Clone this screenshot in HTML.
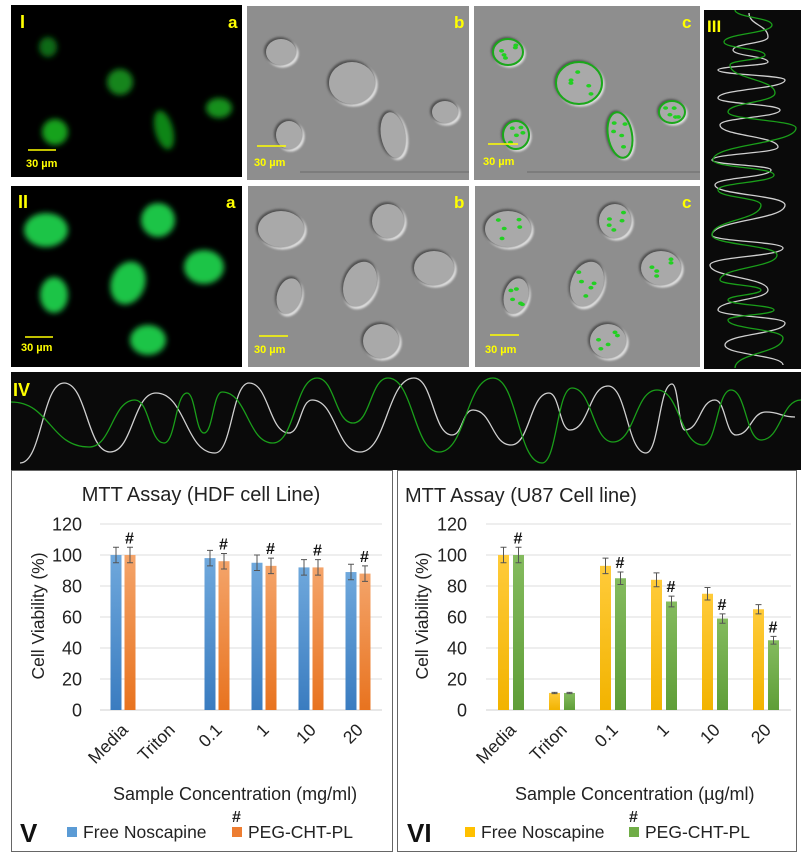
<!DOCTYPE html>
<html><head><meta charset="utf-8"><style>
html,body{margin:0;padding:0;background:#fff;}
svg{display:block;font-family:"Liberation Sans",sans-serif;}
</style></head><body>
<svg id="s" width="801" height="854" viewBox="0 0 801 854" xmlns="http://www.w3.org/2000/svg">
<defs>
<filter id="bl" x="-50%" y="-50%" width="200%" height="200%"><feGaussianBlur stdDeviation="3"/></filter>
<filter id="bl1" x="-50%" y="-50%" width="200%" height="200%"><feGaussianBlur stdDeviation="1"/></filter>
<linearGradient id="gB" x1="0" y1="0" x2="0" y2="1"><stop offset="0" stop-color="#6fa8dc"/><stop offset="1" stop-color="#3a7cc0"/></linearGradient>
<linearGradient id="gO" x1="0" y1="0" x2="0" y2="1"><stop offset="0" stop-color="#f4a46a"/><stop offset="1" stop-color="#e8731f"/></linearGradient>
<linearGradient id="gY" x1="0" y1="0" x2="0" y2="1"><stop offset="0" stop-color="#ffcb3a"/><stop offset="1" stop-color="#f2b300"/></linearGradient>
<linearGradient id="gG" x1="0" y1="0" x2="0" y2="1"><stop offset="0" stop-color="#84bb5e"/><stop offset="1" stop-color="#5f9e38"/></linearGradient>
</defs>
<rect x="11" y="5" width="231" height="172" fill="#000"/>
<rect x="247" y="6" width="222" height="174" fill="#8e8e8e"/>
<rect x="474" y="6" width="226" height="174" fill="#8e8e8e"/>
<rect x="11" y="186" width="231" height="181" fill="#000"/>
<rect x="248" y="186" width="221" height="181" fill="#8e8e8e"/>
<rect x="475" y="186" width="225" height="181" fill="#8e8e8e"/>
<rect x="704" y="10" width="97" height="359" fill="#0a0a0a"/>
<rect x="11" y="372" width="790" height="98" fill="#0a0a0a"/>
<g id="cells"></g>
<g fill="#ffff00" font-weight="bold">
<text x="20" y="28" font-size="18">I</text><text x="228" y="28" font-size="17">a</text>
<text x="454" y="28" font-size="17">b</text><text x="682" y="28" font-size="17">c</text>
<text x="18" y="208" font-size="18">II</text><text x="226" y="208" font-size="17">a</text>
<text x="454" y="208" font-size="17">b</text><text x="682" y="208" font-size="17">c</text>
<text x="707" y="32" font-size="17">III</text>
<text x="13" y="396" font-size="18">IV</text>
<g font-size="11">
<text x="26" y="167">30 µm</text><text x="254" y="166">30 µm</text><text x="483" y="165">30 µm</text>
<text x="21" y="351">30 µm</text><text x="254" y="353">30 µm</text><text x="485" y="353">30 µm</text>
</g>
<g stroke="#ffff00" stroke-width="1.5">
<line x1="28" y1="150" x2="56" y2="150"/><line x1="257" y1="146" x2="286" y2="146"/><line x1="488" y1="144" x2="518" y2="144"/>
<line x1="25" y1="337" x2="53" y2="337"/><line x1="259" y1="336" x2="288" y2="336"/><line x1="490" y1="335" x2="519" y2="335"/>
</g>
</g>
<g id="waves" fill="none" stroke-width="1.3"></g>
<rect x="11.5" y="470.5" width="381" height="381" fill="none" stroke="#666"/>
<rect x="397.5" y="470.5" width="399" height="381" fill="none" stroke="#666"/>
<g id="charts"></g>
<g fill="#222">
<text x="201" y="501" font-size="20" text-anchor="middle">MTT Assay (HDF cell Line)</text>
<text x="405" y="502" font-size="20">MTT Assay (U87 Cell line)</text>
<text x="113" y="800" font-size="18">Sample Concentration  (mg/ml)</text>
<text x="515" y="800" font-size="18">Sample Concentration (µg/ml)</text>
<text x="44" y="616" font-size="17.5" text-anchor="middle" transform="rotate(-90 44 616)">Cell Viability (%)</text>
<text x="428" y="616" font-size="17.5" text-anchor="middle" transform="rotate(-90 428 616)">Cell Viability (%)</text>
<text x="20" y="842" font-size="26" font-weight="bold" fill="#111">V</text>
<text x="407" y="842" font-size="26" font-weight="bold" fill="#111">VI</text>
<rect x="67" y="827" width="10" height="10" fill="#5b9bd5"/><text x="83" y="838" font-size="17.5">Free Noscapine</text>
<rect x="232" y="827" width="10" height="10" fill="#ed7d31"/><text x="248" y="838" font-size="17.5">PEG-CHT-PL</text>
<text x="232" y="822" font-size="16" font-weight="bold">#</text>
<rect x="465" y="827" width="10" height="10" fill="#ffc000"/><text x="481" y="838" font-size="17.5">Free Noscapine</text>
<rect x="629" y="827" width="10" height="10" fill="#70ad47"/><text x="645" y="838" font-size="17.5">PEG-CHT-PL</text>
<text x="629" y="822" font-size="16" font-weight="bold">#</text>
</g>
</svg>
<script>
var NS="http://www.w3.org/2000/svg";
function el(p,t,a,txt){var e=document.createElementNS(NS,t);for(var k in a)e.setAttribute(k,a[k]);if(txt!=null)e.textContent=txt;p.appendChild(e);return e;}
var cells=document.getElementById('cells');
function glow(cx,cy,rx,ry,col,rot){el(cells,'ellipse',{cx:cx,cy:cy,rx:rx,ry:ry,fill:col,filter:'url(#bl)',transform:'rotate('+(rot||0)+' '+cx+' '+cy+')'});}
glow(48,47,9,10,'#0f6a12');glow(120,82,13,13,'#12851a');glow(55,132,13,13,'#16a21f');glow(164,130,9,20,'#118518',-15);glow(219,108,13,10,'#12901a');
[[46,230,22,17,0],[158,220,17,17,0],[204,267,20,17,0],[128,283,17,22,20],[54,295,14,18,0],[148,340,18,15,0]].forEach(function(c){glow(c[0],c[1],c[2],c[3],'#1fc447',c[4]);});
function dic(cx,cy,rx,ry,rot,green,ring){
 var tr='rotate('+rot+' '+cx+' '+cy+')';
 el(cells,'ellipse',{cx:cx+1.5,cy:cy+1.5,rx:rx,ry:ry,fill:'#e6e6e6',transform:tr,filter:'url(#bl1)'});
 el(cells,'ellipse',{cx:cx-1,cy:cy-1,rx:rx,ry:ry,fill:'#505050',transform:tr,filter:'url(#bl1)'});
 el(cells,'ellipse',{cx:cx,cy:cy,rx:rx-1,ry:ry-1,fill:'#a9a9a9',transform:tr});
 if(green){
  if(ring)el(cells,'ellipse',{cx:cx,cy:cy,rx:rx-1,ry:ry-1,fill:'none',stroke:'#1aa81a','stroke-width':2,transform:tr});
  for(var i=0;i<5;i++){el(cells,'ellipse',{cx:cx+(Math.sin(i*2.3+cx)*rx*0.5),cy:cy+(Math.cos(i*1.7+cy)*ry*0.5),rx:2.5,ry:1.8,fill:'#22d022'});}
 }
}
var r1=[[281,52,16,14,0],[352,83,24,22,0],[289,135,14,15,0],[393,135,13,24,-10],[445,112,14,12,0]];
var r2=[[281,228,24,19,0],[388,220,17,18,0],[434,267,21,18,0],[360,283,17,24,20],[289,295,13,19,15],[381,340,19,18,0]];
r1.forEach(function(c){dic(c[0],c[1],c[2],c[3],c[4],false);});
r1.forEach(function(c){dic(c[0]+227,c[1],c[2],c[3],c[4],true,true);});
r2.forEach(function(c){dic(c[0],c[1]+1,c[2],c[3],c[4],false);});
r2.forEach(function(c){dic(c[0]+227,c[1]+1,c[2],c[3],c[4],true,false);});
el(cells,'line',{x1:300,y1:172,x2:469,y2:172,stroke:'#6a6a6a','stroke-width':1});
el(cells,'line',{x1:527,y1:172,x2:700,y2:172,stroke:'#6a6a6a','stroke-width':1});
var W=document.getElementById('waves');
function hpath(pts){var d='M'+pts[0][0]+','+pts[0][1];for(var i=1;i<pts.length;i++){var a=pts[i-1],b=pts[i],dx=(b[0]-a[0])/2;d+=' C'+(a[0]+dx)+','+a[1]+' '+(b[0]-dx)+','+b[1]+' '+b[0]+','+b[1];}return d;}
function vpath(pts){var d='M'+pts[0][0]+','+pts[0][1];for(var i=1;i<pts.length;i++){var a=pts[i-1],b=pts[i],dy=(b[1]-a[1])/2;d+=' C'+a[0]+','+(a[1]+dy)+' '+b[0]+','+(b[1]-dy)+' '+b[0]+','+b[1];}return d;}
var wh=[[20,463],[64,383],[110,452],[156,393],[215,453],[249,383],[289,433],[312,400],[360,452],[414,378],[452,435],[473,410],[511,445],[549,393],[570,430],[608,386],[646,453],[672,384],[685,430],[715,400],[736,435],[766,412],[795,417]];
var gr=[[11,402],[89,447],[135,400],[164,443],[187,393],[204,433],[222,392],[273,443],[317,378],[353,423],[388,378],[439,452],[493,378],[542,463],[572,388],[613,442],[657,390],[703,445],[731,390],[761,440],[801,400]];
el(W,'path',{d:hpath(wh),stroke:'#d0d0d0'});el(W,'path',{d:hpath(gr),stroke:'#1a9e1a'});
var vw=[[749,13],[768,37],[733,50],[768,62],[718,70],[785,80],[718,98],[780,110],[720,125],[778,147],[712,160],[771,170],[715,185],[785,205],[712,235],[783,248],[710,265],[768,290],[718,310],[785,323],[725,345],[783,365]];
var vg=[[735,10],[772,25],[724,42],[765,55],[730,65],[775,93],[728,112],[796,128],[713,160],[774,175],[718,190],[761,205],[712,235],[777,255],[720,280],[761,290],[728,300],[774,310],[728,320],[783,338],[735,368]];
el(W,'path',{d:vpath(vw),stroke:'#d0d0d0'});el(W,'path',{d:vpath(vg),stroke:'#1a9e1a'});
var C=document.getElementById('charts');
function Y(v){return 710-v*1.55;}
function chart(x0,x1,lblX,centers,off1,off2,v1,v2,e1,e2,f1,f2){
 for(var t=0;t<=120;t+=20){el(C,'line',{x1:x0,y1:Y(t),x2:x1,y2:Y(t),stroke:t?'#dcdcdc':'#cfcfcf','stroke-width':1});
  el(C,'text',{x:lblX,y:Y(t)+6.5,'font-size':18,'text-anchor':'end',fill:'#222'},String(t));}
 var names=['Media','Triton','0.1','1','10','20'];
 centers.forEach(function(c,i){
  [[off1,v1,e1,f1],[off2,v2,e2,f2]].forEach(function(s,k){
   var v=s[1][i];if(v<=0){return;}
   var bx=c+s[0];el(C,'rect',{x:bx,y:Y(v),width:11,height:v*1.55,fill:s[3]});
   var e=s[2][i]*1.55,mx=bx+5.5;
   el(C,'path',{d:'M'+mx+','+(Y(v)-e)+'V'+(Y(v)+e)+'M'+(mx-3)+','+(Y(v)-e)+'h6M'+(mx-3)+','+(Y(v)+e)+'h6',stroke:'#555','stroke-width':1,fill:'none'});
   if(k==1&&names[i]!='Triton')el(C,'text',{x:mx-5,y:Y(v)-e-4,'font-size':16,'font-weight':'bold',fill:'#111'},'#');
  });
  el(C,'text',{x:c+6,y:731,'font-size':17.5,'text-anchor':'end',fill:'#222',transform:'rotate(-45 '+(c+6)+' 731)'},names[i]);
 });
}
chart(100,382,82,[123,170,217,264,311,358],-12.5,1.5,[100,0,98,95,92,89],[100,0,96,93,92,88],[5,0,5,5,5,5],[5,0,5,5,5,5],'url(#gB)','url(#gO)');
chart(486,791,467,[511,562,613,664,715,766],-13,2,[100,11,93,84,75,65],[100,11,85,70,59,45],[5,0.4,5,4.5,4,3],[5,0.4,4,3.5,3,2.5],'url(#gY)','url(#gG)');
</script>
</body></html>
